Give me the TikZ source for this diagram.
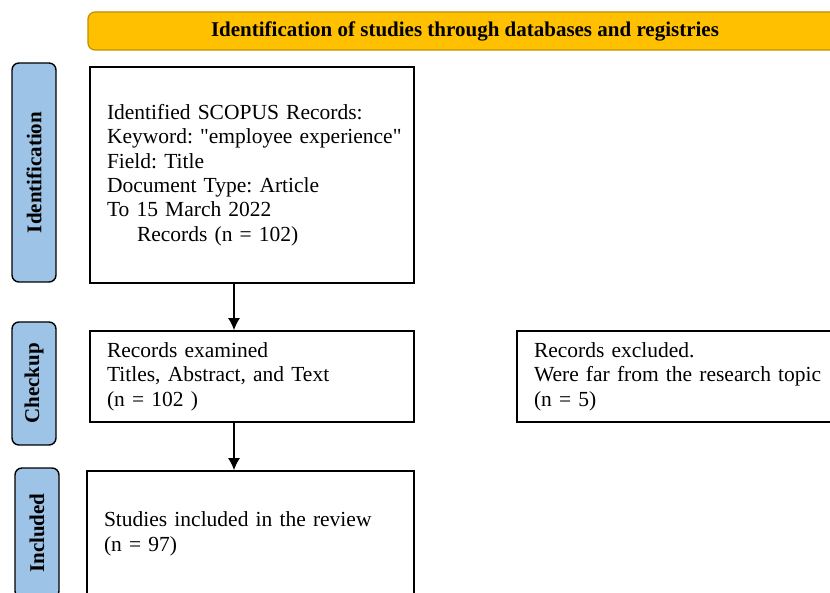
\documentclass[tikz,border=0pt]{standalone}
\usepackage{fontspec}
\setmainfont{Liberation Serif}
\usetikzlibrary{arrows.meta}

\definecolor{bannergold}{HTML}{FFC000}
\definecolor{bannerline}{HTML}{BF9000}
\definecolor{phaseblue}{HTML}{9DC3E6}

\tikzset{
    banner/.style={draw=bannerline, fill=bannergold, line width=1.2pt, rounded corners=7pt,
        font=\bfseries\fontsize{21}{24}\selectfont},
    phase/.style={draw=black, fill=phaseblue, line width=1.4pt, rounded corners=7pt, rotate=90,
        minimum height=44, inner sep=0pt, font=\bfseries\fontsize{21}{24}\selectfont},
    recbox/.style={draw=black, line width=1.6pt, align=left, inner xsep=17, inner ysep=0,
        font=\frenchspacing\fontsize{21.5}{24.4}\selectfont},
    arr/.style={line width=1.6pt, -{Latex[length=12pt,width=12pt]}}
}

\begin{document}
\begin{tikzpicture}[x=1pt, y=-1pt]
    \useasboundingbox (0,0) rectangle (830,593);
    \clip (0,0) rectangle (830,593);

    % heading
    \node[banner, minimum width=754, minimum height=38] (head) at (465,31)
        {Identification of studies through databases and registries};

    % phases on the left
    \node[phase, minimum width=219] (phid) at (34,172.5) {Identification};
    \node[phase, minimum width=123] (phcheck) at (34,383.5) {Checkup};
    \node[phase, minimum width=130] (phincl) at (37,533) {Included};

    % record boxes
    \node[recbox, text width=290, minimum height=216] (ident) at (252,175)
        {Identified SCOPUS Records:\\
         \mbox{Keyword: \textquotedbl employee experience\textquotedbl}\\
         Field: Title\\
         Document Type: Article\\
         To 15 March 2022\\
         \hspace*{30pt}Records (n = 102)};
    \node[recbox, text width=290, minimum height=91] (check) at (252,376.5)
        {Records examined\\
         Titles, Abstract, and Text\\
         (n = 102 )};
    \node[recbox, text width=293, minimum height=126] (incl) at (250.5,534)
        {Studies included in the review\\
         (n = 97)};
    \node[recbox, text width=310, minimum height=91] (excl) at (689,376.5)
        {Records excluded.\\
         Were far from the research topic\\
         (n = 5)};

    % arrows
    \coordinate (down) at (234,0);
    \draw[arr] (ident.south -| down) -- (check.north -| down);
    \draw[arr] (check.south -| down) -- (incl.north -| down);
\end{tikzpicture}
\end{document}
